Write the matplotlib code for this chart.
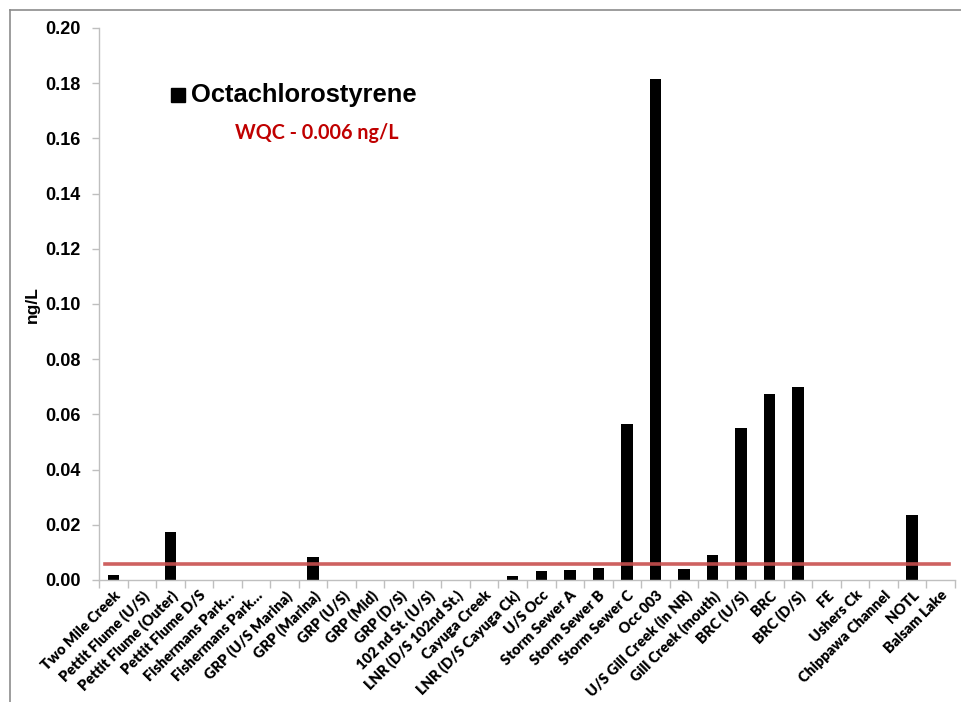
import matplotlib
matplotlib.use("Agg")
import matplotlib.pyplot as plt
from matplotlib.lines import Line2D
import numpy as np

categories = ["Two Mile Creek", "Pettit Flume (U/S)", "Pettit Flume (Outer)", "Pettit Flume D/S",
              "Fishermans Park…", "Fishermans Park…", "GRP (U/S Marina)", "GRP (Marina)",
              "GRP (U/S)", "GRP (Mid)", "GRP (D/S)", "102 nd St. (U/S)", "LNR (D/S 102nd St.)",
              "Cayuga Creek", "LNR (D/S Cayuga Ck)", "U/S Occ", "Storm Sewer A", "Storm Sewer B",
              "Storm Sewer C", "Occ 003", "U/S Gill Creek (in NR)", "Gill Creek (mouth)",
              "BRC (U/S)", "BRC", "BRC (D/S)", "FE", "Ushers Ck", "Chippawa Channel", "NOTL",
              "Balsam Lake"]
values = [0.0017, 0, 0.0173, 0, 0, 0, 0, 0.0084, 0, 0, 0, 0, 0, 0, 0.0013, 0.0034, 0.0036,
          0.0043, 0.0565, 0.1815, 0.0039, 0.0089, 0.0550, 0.0673, 0.0699, 0, 0, 0, 0.0236, 0]
wqc_value = 0.0057
yticks = [0.00, 0.02, 0.04, 0.06, 0.08, 0.10, 0.12, 0.14, 0.16, 0.18, 0.20]

W, H = 961, 702
fig = plt.figure(figsize=(W / 100, H / 100), dpi=100)
ax = fig.add_axes([99 / W, (H - 580) / H, (955 - 99) / W, (580 - 28) / H])

x = np.arange(len(categories))
ax.bar(x, values, width=0.4, color="black", zorder=2)
ax.plot([x[0] - 0.3, x[-1] + 0.3], [wqc_value, wqc_value], color="#C9504F", lw=2.6, alpha=0.9, zorder=3)

ax.set_xlim(-0.5, len(categories) - 0.5)
ax.set_ylim(0, 0.20)
ax.set_yticks(yticks)
ax.set_yticklabels([f"{v:.2f}" for v in yticks], fontsize=13, fontweight="bold", family="Liberation Sans")
ax.tick_params(axis="y", length=5, color="#BFBFBF", width=1, pad=8)

ax.set_xticks(x)
ax.set_xticklabels(categories, rotation=45, ha="right", rotation_mode="anchor",
                   fontsize=10.5, fontweight="heavy", family="Lato")
ax.tick_params(axis="x", length=0, pad=6)
ax.set_xticks(np.arange(len(categories) + 1) - 0.5, minor=True)
ax.tick_params(axis="x", which="minor", length=6, color="#BFBFBF", width=1)

for s in ["top", "right"]:
    ax.spines[s].set_visible(False)
for s in ["left", "bottom"]:
    ax.spines[s].set_color("#BFBFBF")
    ax.spines[s].set_linewidth(1)

fig.text(32 / W, 1 - 305 / H, "ng/L", rotation=90, ha="center", va="center",
         fontsize=12.5, fontweight="bold", family="Liberation Sans")

# legend
fig.add_artist(Line2D([178 / W], [1 - 95 / H], marker="s", markersize=9.5, color="black", linestyle="none"))
fig.text(191 / W, 1 - 95 / H, "Octachlorostyrene", ha="left", va="center",
         fontsize=18.4, fontweight="bold", family="Liberation Sans")
fig.text(235 / W, 1 - 133 / H, "WQC - 0.006 ng/L", ha="left", va="center",
         fontsize=14.2, fontweight="bold", family="Lato", color="#C00000")

# outer border (top and left)
fig.add_artist(Line2D([10 / W, 1], [1 - 10 / H, 1 - 10 / H], color="#8C8C8C", lw=1.2))
fig.add_artist(Line2D([10 / W, 10 / W], [0, 1 - 10 / H], color="#8C8C8C", lw=1.2))

fig.savefig("out.png", dpi=100)
